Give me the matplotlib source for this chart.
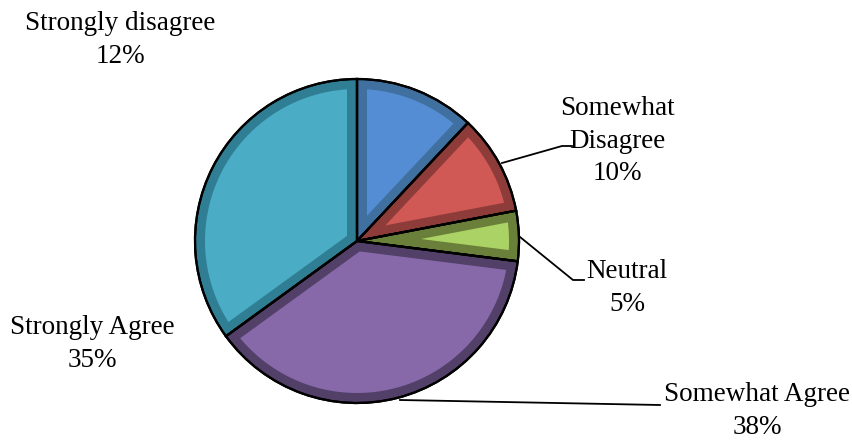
import numpy as np
import matplotlib
matplotlib.use("Agg")
from matplotlib import pyplot as plt
from matplotlib.patches import Polygon, Wedge

labels = ["Strongly disagree", "Somewhat\nDisagree", "Neutral", "Somewhat Agree", "Strongly Agree"]
values = [12, 10, 5, 38, 35]

face_colors = ["#548DD4", "#D05855", "#AAD264", "#8769AA", "#4BACC6"]
bevel_colors = ["#40709F", "#8E3C3A", "#6A7F3A", "#524068", "#2F7E93"]

W, H = 853, 440
cx, cy, R = 357, H - 241, 162
bevel = 10


def inner_wedge(t1, t2, r, d):
    # wedge shrunk inward by d on every side
    a1, a2 = np.radians(t1), np.radians(t2)
    half = (a2 - a1) / 2
    mid = (a1 + a2) / 2
    apex_dist = d / np.sin(half)
    apex = (cx + apex_dist * np.cos(mid), cy + apex_dist * np.sin(mid))
    rr = r - d
    da = np.arcsin(d / rr)
    arc = np.linspace(a1 + da, a2 - da, 60)
    pts = [apex] + [(cx + rr * np.cos(a), cy + rr * np.sin(a)) for a in arc]
    return pts


fig = plt.figure(figsize=(W / 100, H / 100), dpi=100)
ax = fig.add_axes([0, 0, 1, 1])

wedges, _ = ax.pie(values, colors=bevel_colors, startangle=90, counterclock=False,
                   center=(cx, cy), radius=R, frame=True,
                   wedgeprops=dict(edgecolor="black", linewidth=1.6))
ax.set_xlim(0, W)
ax.set_ylim(0, H)
ax.set_aspect("equal")
ax.axis("off")

for w, fc in zip(wedges, face_colors):
    poly = Polygon(inner_wedge(w.theta1, w.theta2, R, bevel), closed=True,
                   facecolor=fc, edgecolor="none", zorder=w.get_zorder() + 0.1)
    ax.add_patch(poly)
for w in wedges:
    ax.add_patch(Wedge((cx, cy), R, w.theta1, w.theta2, facecolor="none",
                       edgecolor="black", linewidth=1.6, zorder=5))

font = dict(family=["Liberation Serif", "DejaVu Serif"], size=19.5)
text_pos = [(120, 40), (617, 141), (627, 288), (757, 411), (92, 344)]
for lab, v, (tx, ty) in zip(labels, values, text_pos):
    ax.text(tx, H - ty, f"{lab}\n{v}%", ha="center", va="center",
            linespacing=1.38, **font)

# leader lines
leaders = [
    [(502, 163), (562, 146), (572, 146)],
    [(520, 237), (573, 280), (584, 280)],
    [(400, 400), (660, 405)],
]
for pts in leaders:
    xs = [p[0] for p in pts]
    ys = [H - p[1] for p in pts]
    ax.plot(xs, ys, color="black", linewidth=1.3, zorder=6)

fig.savefig("out.png", dpi=100)
